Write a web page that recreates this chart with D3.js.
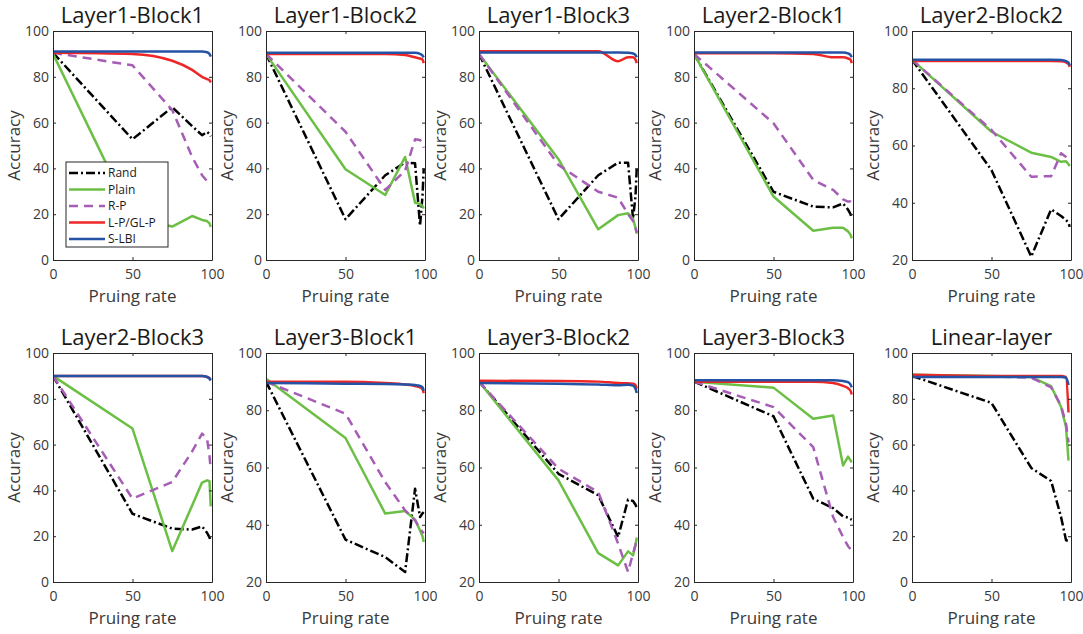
<!DOCTYPE html>
<html>
<head>
<meta charset="utf-8">
<script src="https://cdn.jsdelivr.net/npm/d3@7"></script>
<style>
  html, body { margin: 0; padding: 0; background: #ffffff; }
  svg { display: block; }
</style>
</head>
<body>
<svg id="chart" width="1083" height="634"></svg>
<script>
// ---------------- data ----------------
const panelTitles = ["Layer1-Block1", "Layer1-Block2", "Layer1-Block3", "Layer2-Block1", "Layer2-Block2",
                     "Layer2-Block3", "Layer3-Block1", "Layer3-Block2", "Layer3-Block3", "Linear-layer"];
const pruningRates = [0, 50, 75, 87.5, 93.75, 96.875, 98.4375, 99.2];
const yMinima = [0, 0, 0, 0, 20, 0, 20, 20, 20, 0];
const yTickValues0 = [0, 20, 40, 60, 80, 100];
const yTickValues20 = [20, 40, 60, 80, 100];
const xTickValues = [0, 50, 100];
const methodNames = ["Rand", "Plain", "R-P", "L-P/GL-P", "S-LBI"];

const randAcc = [
  [90.5, 52.7, 66.7, 58.5, 54.5, 56, 55, 54],
  [90, 17.8, 37, 42.6, 42.2, 15, 28, 40],
  [90, 17.8, 37, 42.5, 42.5, 18, 28, 40],
  [90, 29.8, 23.3, 23, 24.7, 22, 20, 18],
  [90, 51.4, 21.2, 37.7, 35.4, 34, 33, 31.6],
  [90, 29.8, 23.3, 22.9, 24.3, 21.5, 19.5, 17.5],
  [90, 34.8, 28.7, 23.5, 52.6, 42.7, 44, 44.4],
  [90, 57.8, 50.3, 35.7, 48.8, 48.3, 47, 46],
  [90, 77.9, 49.1, 45.8, 42.9, 42.5, 42, 41.8],
  [90, 78.2, 49.8, 44.1, 28.4, 18.2, 17.9, null]
];
const plainAcc = [
  [90, 18.5, 14.6, 19.2, 17.5, 17, 16, 14.5],
  [90, 39.6, 28.4, 45, 25, 24.5, 23.5, 22.5],
  [90, 44, 13.4, 19.6, 20.4, 18, 14, 11.5],
  [90, 27.7, 12.8, 14.1, 14.1, 12.5, 11, 9.5],
  [90, 64.8, 57.5, 56, 54.3, 54.5, 53.5, 52.8],
  [90, 67, 13.5, 33.4, 43.4, 44.4, 44, 33],
  [91, 70.3, 43.9, 44.8, 41.8, 38, 36, 34],
  [90, 55.5, 30.1, 25.8, 30.7, 29.3, 33, 35.4],
  [90, 87.9, 77, 78.2, 60.7, 63.8, 62.5, 61.8],
  [90.5, 90, 89.5, 85.5, 76.4, 67.7, 53, null]
];
const rpAcc = [
  [90.5, 85, 65.5, 45, 37, 34.5, 34, 34],
  [90, 56, 30.6, 39, 52.7, 52.4, 51, 49],
  [90, 41.5, 29.8, 27.2, 20, 17, 14, 12],
  [90, 59.7, 35, 30.6, 26.5, 25.5, 25.5, 25],
  [90, 65.4, 49.1, 49.3, 57.3, 56, 55, 54.5],
  [90, 36.4, 43.7, 57, 64.8, 62.6, 55, 48.8],
  [90, 78.8, 54.9, 45, 41.5, 38.6, 37.5, 37],
  [90, 59.6, 51.4, 33.4, 23.5, 30, 33, 35.7],
  [90, 81.1, 67.1, 42.7, 35.7, 32.5, 31.5, 31],
  [90, 89.8, 89.2, 85, 77, 69, 61, null]
];
const lpAcc = [
  [90.5, 90, 87, 83, 80, 79, 78.5, 77.5],
  [90, 90, 90, 89.5, 88.5, 88, 87.5, 86],
  [91.2, 91.2, 91.2, 86.8, 88.5, 88.5, 87.5, 86],
  [90.3, 90.3, 90, 88.5, 88.5, 88, 87.5, 86],
  [89.5, 89.5, 89.5, 89.5, 89.4, 89, 88.5, 87.5],
  [90, 90, 90, 90, 90, 89.7, 89, 88.5],
  [90, 90, 89.5, 89, 88.5, 88, 87.3, 86],
  [90.3, 90.2, 90, 89.5, 89.4, 89.3, 88.8, 87.5],
  [90, 90, 90, 89.5, 88.5, 87.7, 86.8, 85.5],
  [90.5, 90, 90, 90, 90, 89.5, 74, null]
];
const slbiAcc = [
  [91, 91, 91, 91, 91, 90.7, 90, 88.8],
  [90.5, 90.5, 90.5, 90.5, 90.5, 90, 89.3, 88.5],
  [90.6, 90.6, 90.6, 90.6, 90.5, 90.2, 89.5, 88.5],
  [90.6, 90.6, 90.6, 90.6, 90.6, 90.2, 89.5, 88.5],
  [90, 90, 90, 90, 89.9, 89.5, 89, 88],
  [90, 90, 90, 90, 90, 89.5, 88.8, 88],
  [89.5, 89.3, 89.2, 89, 88.8, 88.5, 88, 86.8],
  [89.5, 89.3, 89, 88.7, 88.9, 88.6, 87.5, 86],
  [90.5, 90.5, 90.5, 90.5, 90.2, 89.8, 89, 88],
  [89.5, 89.5, 89.5, 89.5, 89.5, 89.2, 86, null]
];

// ---------------- styles ----------------
const seriesStyle = [
  { data: randAcc,  color: "#000000", dash: "9,3,2,3", smooth: false },
  { data: plainAcc, color: "#6cbf45", dash: null,      smooth: false },
  { data: rpAcc,    color: "#a65db5", dash: "9,6",     smooth: false },
  { data: lpAcc,    color: "#ee2626", dash: null,      smooth: true },
  { data: slbiAcc,  color: "#2452a5", dash: null,      smooth: true }
];
const FONT = "'Open Sans', 'Noto Sans', sans-serif";
const AXIS_COLOR = "#262626";
const lefts = [53, 266, 479, 694, 912];
const tops = [31, 353];
const pw = 159, ph = 229;

const svg = d3.select("#chart");

panelTitles.forEach((title, i) => {
  const row = Math.floor(i / 5), col = i % 5;
  const x0 = lefts[col], y0 = tops[row];
  const x = d3.scaleLinear().domain([0, 100]).range([x0, x0 + pw]);
  const y = d3.scaleLinear().domain([yMinima[i], 100]).range([y0 + ph, y0]);
  const yTicks = yMinima[i] === 0 ? yTickValues0 : yTickValues20;
  const g = svg.append("g");

  const clipId = "clip" + i;
  svg.append("clipPath").attr("id", clipId)
    .append("rect").attr("x", x0).attr("y", y0 - 3).attr("width", pw).attr("height", ph + 3);

  seriesStyle.forEach(s => {
    const pts = pruningRates.map((r, k) => [r, s.data[i][k]]);
    const line = d3.line()
      .defined(d => d[1] != null)
      .x(d => x(d[0])).y(d => y(d[1]))
      .curve(s.smooth ? d3.curveMonotoneX : d3.curveLinear);
    g.append("path")
      .attr("d", line(pts))
      .attr("fill", "none")
      .attr("stroke", s.color)
      .attr("stroke-width", 2.5)
      .attr("stroke-linejoin", "round")
      .attr("stroke-dasharray", s.dash)
      .attr("clip-path", `url(#${clipId})`);
  });

  const styleAxis = sel => {
    sel.select(".domain").attr("stroke", AXIS_COLOR).attr("stroke-width", 1);
    sel.selectAll(".tick line").attr("stroke", AXIS_COLOR).attr("stroke-width", 1);
    sel.selectAll(".tick text").attr("fill", "#3a3a3a").style("font-family", FONT).style("font-size", "14px");
  };
  g.append("g").attr("transform", `translate(0,${y0 + ph})`)
    .call(d3.axisBottom(x).tickValues(xTickValues).tickSizeInner(-3).tickSizeOuter(0).tickPadding(9))
    .call(styleAxis);
  g.append("g").attr("transform", `translate(0,${y0})`)
    .call(d3.axisTop(x).tickValues(xTickValues).tickSizeInner(-3).tickSizeOuter(0).tickFormat(""))
    .call(styleAxis);
  g.append("g").attr("transform", `translate(${x0},0)`)
    .call(d3.axisLeft(y).tickValues(yTicks).tickSizeInner(-3).tickSizeOuter(0).tickPadding(4))
    .call(styleAxis);
  g.append("g").attr("transform", `translate(${x0 + pw},0)`)
    .call(d3.axisRight(y).tickValues(yTicks).tickSizeInner(-3).tickSizeOuter(0).tickFormat(""))
    .call(styleAxis);

  g.append("text")
    .attr("x", x0 + pw / 2).attr("y", y0 - 8)
    .attr("text-anchor", "middle")
    .style("font-family", FONT).style("font-size", "22px").attr("fill", "#1a1a1a")
    .text(title);
  g.append("text")
    .attr("x", x0 + pw / 2).attr("y", y0 + ph + 42)
    .attr("text-anchor", "middle")
    .style("font-family", FONT).style("font-size", "17px").attr("fill", "#3a3a3a")
    .text("Pruing rate");
  g.append("text")
    .attr("transform", `translate(${x0 - 33},${y0 + ph / 2}) rotate(-90)`)
    .attr("text-anchor", "middle")
    .style("font-family", FONT).style("font-size", "17px").attr("fill", "#3a3a3a")
    .text("Accuracy");
});

// legend (in first panel)
const lg = svg.append("g");
lg.append("rect").attr("x", 66).attr("y", 162).attr("width", 102).attr("height", 85)
  .attr("fill", "#ffffff").attr("stroke", AXIS_COLOR).attr("stroke-width", 1);
methodNames.forEach((name, k) => {
  const cy = 173 + k * 16.5;
  lg.append("line").attr("x1", 69).attr("x2", 105).attr("y1", cy).attr("y2", cy)
    .attr("stroke", seriesStyle[k].color).attr("stroke-width", 2.5)
    .attr("stroke-dasharray", seriesStyle[k].dash);
  lg.append("text").attr("x", 108).attr("y", cy).attr("dy", "0.35em")
    .style("font-family", FONT).style("font-size", "12px").attr("fill", "#1a1a1a")
    .text(name);
});
</script>
</body>
</html>
